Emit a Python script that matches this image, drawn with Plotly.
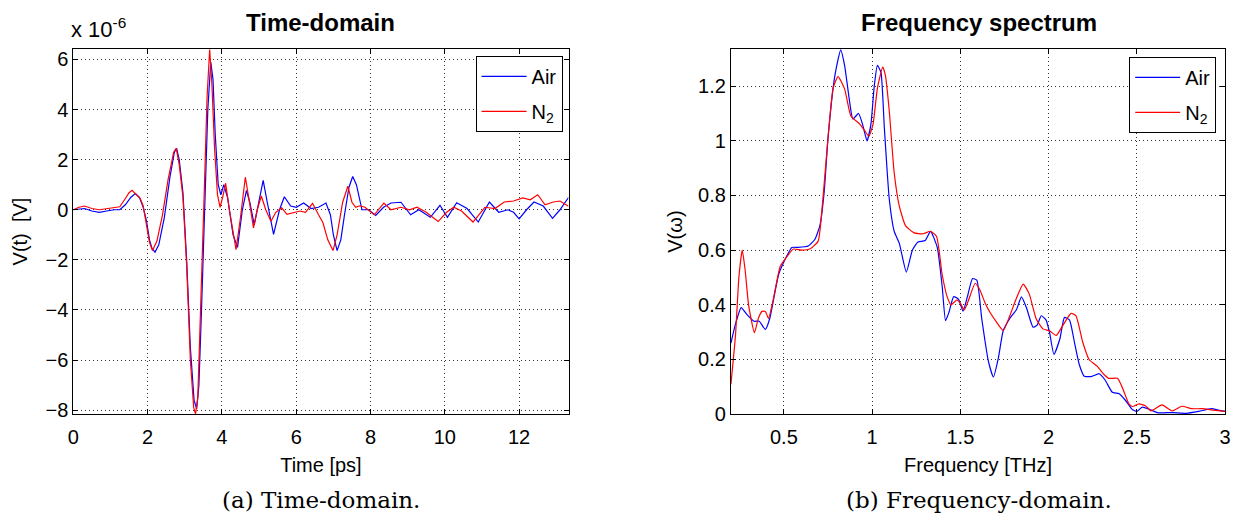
import plotly.graph_objects as go

# ---- Time-domain pulse (voltage in units of 1e-6 V) ----
t_air = [0, 0.3, 0.5, 0.7, 0.9, 1.1, 1.25, 1.4, 1.55, 1.67, 1.78, 1.88, 1.97, 2.05, 2.12, 2.2, 2.3,
         2.45, 2.6, 2.72, 2.78, 2.85, 2.95, 3.05, 3.15, 3.25, 3.32, 3.38, 3.45, 3.55, 3.62, 3.7, 3.76,
         3.82, 3.9, 3.97, 4.05, 4.15, 4.3, 4.42, 4.55, 4.66, 4.75, 4.87, 5.0, 5.11, 5.22, 5.39, 5.55,
         5.68, 5.85, 6.0, 6.2, 6.4, 6.6, 6.8, 6.92, 7.0, 7.1, 7.2, 7.3, 7.42, 7.52, 7.62, 7.77, 7.95,
         8.14, 8.35, 8.55, 8.82, 9.08, 9.3, 9.61, 9.87, 10.07, 10.32, 10.6, 10.9, 11.2, 11.45, 11.7,
         11.85, 12.0, 12.2, 12.4, 12.65, 12.9, 13.1, 13.33]
v_air = [0, 0.05, -0.05, -0.1, -0.05, 0.0, 0.0, 0.2, 0.5, 0.65, 0.5, 0.1, -0.45, -1.2, -1.55, -1.69,
         -1.4, -0.3, 1.3, 2.3, 2.45, 2.0, 0.7, -2.0, -5.5, -7.6, -7.95, -7.0, -4.0, 0.5, 4.0, 5.9, 5.2,
         3.0, 1.0, 0.6, 1.0, 0.5, -1.0, -1.5, 0.0, 0.77, 0.3, -0.6, 0.3, 1.17, 0.3, -0.98, 0.0, 0.52,
         0.15, 0.1, 0.27, 0.05, 0.1, 0.27, -0.2, -1.0, -1.63, -1.2, -0.2, 0.9, 1.33, 1.0, 0.0, 0.0,
         -0.23, 0.1, 0.27, 0.3, -0.2, 0.0, -0.3, 0.18, -0.3, 0.28, 0.05, -0.49, 0.31, -0.1, 0.0, -0.1,
         -0.36, 0.0, 0.31, 0.15, -0.34, 0.0, 0.49]

t_n2 = [0, 0.15, 0.3, 0.5, 0.7, 0.9, 1.1, 1.25, 1.4, 1.5, 1.58, 1.7, 1.8, 1.88, 1.97, 2.05, 2.13, 2.25,
        2.4, 2.55, 2.7, 2.77, 2.85, 2.95, 3.05, 3.15, 3.24, 3.29, 3.35, 3.42, 3.52, 3.6, 3.67, 3.73,
        3.8, 3.88, 3.95, 4.02, 4.1, 4.2, 4.38, 4.5, 4.63, 4.73, 4.85, 4.95, 5.06, 5.18, 5.32, 5.45,
        5.61, 5.75, 5.95, 6.1, 6.25, 6.44, 6.6, 6.72, 6.85, 6.99, 7.1, 7.25, 7.39, 7.5, 7.6, 7.71,
        7.85, 8.1, 8.36, 8.55, 8.82, 9.05, 9.25, 9.5, 9.82, 10.05, 10.24, 10.45, 10.76, 11.08, 11.35,
        11.6, 11.85, 12.1, 12.3, 12.5, 12.7, 12.92, 13.1, 13.33]
v_n2 = [0, 0.1, 0.15, 0.05, 0.0, 0.05, 0.1, 0.12, 0.45, 0.68, 0.78, 0.6, 0.45, 0.15, -0.55, -1.3,
        -1.63, -1.25, -0.2, 1.2, 2.3, 2.45, 1.8, 0.5, -2.2, -6.0, -7.9, -8.15, -7.5, -4.5, 0.5, 4.5,
        6.4, 5.0, 2.5, 0.6, 0.1, 0.5, 1.06, 0.0, -1.59, -0.3, 1.3, 0.4, -0.72, 0.0, 0.55, 0.0, -0.46,
        -0.1, 0.08, -0.18, -0.1, -0.05, -0.1, 0.26, -0.2, -0.52, -1.2, -1.63, -1.0, 0.3, 0.94, 0.3,
        0.1, 0.16, 0.1, -0.2, 0.27, 0.0, 0.1, 0.0, 0.1, -0.1, -0.47, -0.1, 0.1, -0.05, -0.49, 0.1,
        0.05, 0.31, 0.35, 0.47, 0.4, 0.6, 0.2, 0.31, 0.35, 0.14]

# ---- Frequency spectrum ----
f_air = [0.2, 0.226, 0.258, 0.29, 0.33, 0.36, 0.395, 0.42, 0.47, 0.51, 0.545, 0.58, 0.638, 0.676,
         0.704, 0.728, 0.75, 0.788, 0.822, 0.844, 0.872, 0.891, 0.923, 0.946, 0.971, 0.993, 1.012,
         1.03, 1.05, 1.069, 1.097, 1.125, 1.154, 1.194, 1.228, 1.26, 1.3, 1.331, 1.369, 1.397, 1.416,
         1.435, 1.462, 1.49, 1.515, 1.54, 1.569, 1.593, 1.621, 1.659, 1.687, 1.715, 1.743, 1.78,
         1.818, 1.846, 1.874, 1.912, 1.935, 1.958, 1.985, 2.005, 2.03, 2.064, 2.09, 2.118, 2.146,
         2.174, 2.202, 2.245, 2.286, 2.32, 2.361, 2.4, 2.436, 2.474, 2.5, 2.53, 2.57, 2.62, 2.7,
         2.78, 2.85, 2.923, 2.96, 3.0]
s_air = [0.26, 0.33, 0.39, 0.365, 0.34, 0.34, 0.31, 0.35, 0.51, 0.57, 0.61, 0.61, 0.615, 0.64, 0.69,
         0.81, 1.01, 1.235, 1.333, 1.276, 1.145, 1.08, 1.1, 1.06, 1.0, 1.06, 1.2, 1.276, 1.25, 1.05,
         0.788, 0.669, 0.625, 0.52, 0.6, 0.63, 0.635, 0.669, 0.61, 0.467, 0.342, 0.372, 0.43, 0.42,
         0.377, 0.43, 0.496, 0.49, 0.35, 0.193, 0.136, 0.205, 0.306, 0.35, 0.383, 0.429, 0.39, 0.318,
         0.326, 0.36, 0.345, 0.3, 0.219, 0.276, 0.354, 0.345, 0.264, 0.181, 0.139, 0.138, 0.148,
         0.125, 0.08, 0.075, 0.05, 0.017, 0.01, 0.026, 0.018, 0.005, 0.006, 0.003, 0.01, 0.02, 0.015,
         0.01]

f_n2 = [0.2, 0.226, 0.245, 0.264, 0.28, 0.3, 0.333, 0.355, 0.376, 0.395, 0.413, 0.44, 0.479, 0.51,
        0.554, 0.6, 0.65, 0.694, 0.72, 0.75, 0.779, 0.807, 0.844, 0.88, 0.929, 0.955, 0.981, 1.005,
        1.03, 1.06, 1.075, 1.097, 1.125, 1.153, 1.189, 1.238, 1.29, 1.331, 1.365, 1.397, 1.425,
        1.447, 1.481, 1.5, 1.522, 1.545, 1.584, 1.61, 1.64, 1.67, 1.706, 1.743, 1.78, 1.818, 1.856,
        1.89, 1.93, 1.968, 2.005, 2.043, 2.08, 2.127, 2.155, 2.193, 2.23, 2.276, 2.314, 2.34, 2.39,
        2.417, 2.455, 2.475, 2.511, 2.55, 2.58, 2.642, 2.7, 2.755, 2.81, 2.87, 2.93, 3.0]
s_n2 = [0.11, 0.29, 0.5, 0.6, 0.53, 0.4, 0.298, 0.35, 0.376, 0.376, 0.35, 0.42, 0.54, 0.57, 0.604,
        0.6, 0.605, 0.633, 0.78, 1.01, 1.193, 1.235, 1.19, 1.09, 1.062, 1.04, 1.017, 1.06, 1.193,
        1.27, 1.24, 1.11, 0.883, 0.764, 0.69, 0.663, 0.66, 0.669, 0.65, 0.51, 0.43, 0.4, 0.418,
        0.405, 0.381, 0.415, 0.479, 0.455, 0.407, 0.37, 0.336, 0.306, 0.36, 0.425, 0.476, 0.44,
        0.348, 0.312, 0.305, 0.288, 0.324, 0.369, 0.36, 0.264, 0.199, 0.175, 0.145, 0.131, 0.131,
        0.098, 0.038, 0.028, 0.038, 0.03, 0.012, 0.034, 0.012, 0.029, 0.02, 0.02, 0.015, 0.01]

BLUE = "#0000ff"
RED = "#ff0000"
SANS = "Liberation Sans, Arial, sans-serif"
SERIF = "DejaVu Serif, Liberation Serif, serif"
TXT = 20

fig = go.Figure()

fig.add_trace(go.Scatter(x=t_air, y=v_air, mode="lines", name="Air", legendgroup="air",
                         line=dict(color=BLUE, width=1.2), xaxis="x", yaxis="y", legend="legend"))
fig.add_trace(go.Scatter(x=t_n2, y=v_n2, mode="lines", name="N<sub>2</sub>", legendgroup="n2",
                         line=dict(color=RED, width=1.2), xaxis="x", yaxis="y", legend="legend"))
fig.add_trace(go.Scatter(x=f_air, y=s_air, mode="lines", name="Air", legendgroup="air",
                         line=dict(color=BLUE, width=1.2, shape="spline", smoothing=0.5),
                         xaxis="x2", yaxis="y2", legend="legend2"))
fig.add_trace(go.Scatter(x=f_n2, y=s_n2, mode="lines", name="N<sub>2</sub>", legendgroup="n2",
                         line=dict(color=RED, width=1.2, shape="spline", smoothing=0.5),
                         xaxis="x2", yaxis="y2", legend="legend2"))

W, H = 1243, 527
ydom = [1 - 423 / H, 1 - 50 / H]

axis_style = dict(showline=True, linecolor="black", linewidth=1, mirror="ticks",
                  ticks="inside", ticklen=5, tickcolor="black",
                  showgrid=True, gridcolor="rgba(0,0,0,0.8)", griddash="1px,3px", gridwidth=1,
                  zeroline=False, tickfont=dict(family=SANS, size=TXT, color="black"))

title_font = dict(family=SANS, size=TXT, color="black")

legend_style = dict(bgcolor="white", bordercolor="black", borderwidth=1,
                    font=dict(family=SANS, size=TXT, color="black"),
                    xanchor="right", yanchor="top", tracegroupgap=6, itemwidth=45)

fig.update_layout(
    width=W, height=H, margin=dict(l=0, r=0, t=0, b=0),
    paper_bgcolor="white", plot_bgcolor="white",
    xaxis=dict(domain=[68 / W, 568 / W], range=[0, 13.33], tickvals=[0, 2, 4, 6, 8, 10, 12],
               ticklabelstandoff=5,
               title=dict(text="Time [ps]", font=title_font, standoff=10),
               anchor="y", **axis_style),
    yaxis=dict(domain=ydom, range=[-8.16, 6.42], tickvals=[-8, -6, -4, -2, 0, 2, 4, 6],
               title=dict(text="V(t)  [V]", font=title_font, standoff=12),
               anchor="x", **axis_style),
    xaxis2=dict(domain=[732 / W, 1231 / W], range=[0.2, 3.0], tickvals=[0.5, 1, 1.5, 2, 2.5, 3],
                ticklabelstandoff=5,
                title=dict(text="Frequency [THz]", font=title_font, standoff=10),
                anchor="y2", **axis_style),
    yaxis2=dict(domain=ydom, range=[0, 1.336], tickvals=[0, 0.2, 0.4, 0.6, 0.8, 1, 1.2],
                title=dict(text="V(ω)", font=title_font, standoff=10),
                anchor="x2", **axis_style),
    legend=dict(x=562 / W, y=1 - 57 / H, **legend_style),
    legend2=dict(x=1222 / W, y=1 - 58 / H, **legend_style),
    showlegend=True,
)

annotations = [
    dict(text="<b>Time-domain</b>", x=318 / W, y=1 - 23 / H, xref="paper", yref="paper",
         xanchor="center", yanchor="middle", showarrow=False,
         font=dict(family=SANS, size=24, color="black")),
    dict(text="<b>Frequency spectrum</b>", x=982 / W, y=1 - 23 / H, xref="paper", yref="paper",
         xanchor="center", yanchor="middle", showarrow=False,
         font=dict(family=SANS, size=24, color="black")),
    dict(text="x 10<sup>-6</sup>", x=64 / W, y=1 - 45 / H, xref="paper", yref="paper",
         xanchor="left", yanchor="bottom", showarrow=False,
         font=dict(family=SANS, size=22, color="black")),
    dict(text="(a) Time-domain.", x=318 / W, y=1 - 511 / H, xref="paper", yref="paper",
         xanchor="center", yanchor="middle", showarrow=False,
         font=dict(family=SERIF, size=23, color="black")),
    dict(text="(b) Frequency-domain.", x=982 / W, y=1 - 511 / H, xref="paper", yref="paper",
         xanchor="center", yanchor="middle", showarrow=False,
         font=dict(family=SERIF, size=23, color="black")),
]
fig.update_layout(annotations=annotations)

fig.write_html("out.html")
